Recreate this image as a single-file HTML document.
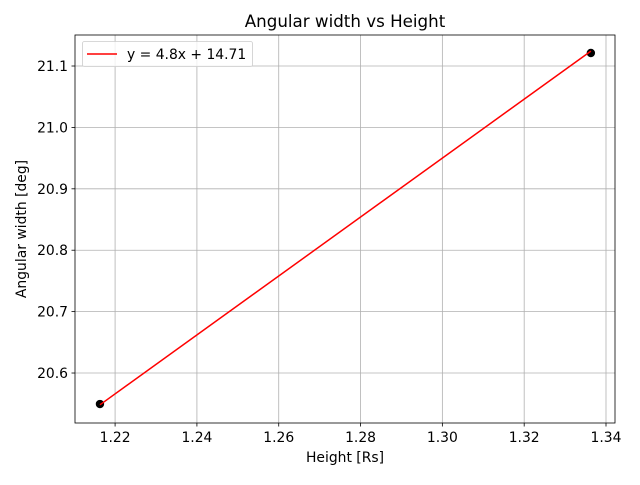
<!DOCTYPE html>
<html><head><meta charset="utf-8"><style>
body{margin:0;background:#fff;font-family:"Liberation Sans","DejaVu Sans",sans-serif;}
svg text{font-family:"DejaVu Sans","Liberation Sans",sans-serif;}
</style></head><body>
<svg id="chart" width="640" height="480" xmlns="http://www.w3.org/2000/svg"></svg>
<script>
const xPoints = [1.2163, 1.3363];
const yPoints = [20.5495, 21.1212];
const slope = [4.8];
const intercept = [14.71];
const xTicks = [1.22, 1.24, 1.26, 1.28, 1.30, 1.32, 1.34];
const yTicks = [20.6, 20.7, 20.8, 20.9, 21.0, 21.1];
const legendLabels = ["y = 4.8x + 14.71"];

const L=75,R=615,T=35,B=423;
const xMin=1.2102,xMax=1.3422,yMin=20.5186,yMax=21.1505;
const sx=v=>L+(v-xMin)/(xMax-xMin)*(R-L);
const sy=v=>B-(v-yMin)/(yMax-yMin)*(B-T);
const svg=document.getElementById('chart');
const NS="http://www.w3.org/2000/svg";
function mk(tag,attrs,parent){const e=document.createElementNS(NS,tag);for(const k in attrs)e.setAttribute(k,attrs[k]);(parent||svg).appendChild(e);return e;}

xTicks.forEach(v=>{
  const x=sx(v);
  const g=mk('line',{x1:x,x2:x,y1:T,y2:B,stroke:'#b0b0b0','stroke-width':0.8});
  
  
  mk('line',{x1:x,x2:x,y1:B,y2:B+3.5,stroke:'#000','stroke-width':0.8});
  const t=mk('text',{x:x,y:B+19,'font-size':13.9,'text-anchor':'middle',fill:'#000'});
  t.textContent=v.toFixed(2);
  
  
});
yTicks.forEach(v=>{
  const y=sy(v);
  const g=mk('line',{x1:L,x2:R,y1:y,y2:y,stroke:'#b0b0b0','stroke-width':0.8});
  
  
  mk('line',{x1:L-3.5,x2:L,y1:y,y2:y,stroke:'#000','stroke-width':0.8});
  const t=mk('text',{x:L-7,y:y+5,'font-size':13.9,'text-anchor':'end',fill:'#000'});
  t.textContent=v.toFixed(1);
  
  
});

xPoints.forEach((xv,i)=>{
  const c=mk('circle',{cx:sx(xv),cy:sy(yPoints[i]),r:4.2,fill:'#000'});
  
  
});
const x0=xPoints[0],x1=xPoints[xPoints.length-1];
const fl=mk('line',{x1:sx(x0),y1:sy(slope[0]*x0+intercept[0]),x2:sx(x1),y2:sy(slope[0]*x1+intercept[0]),stroke:'#ff0000','stroke-width':1.5});



const fr=mk('rect',{x:L,y:T,width:R-L,height:B-T,fill:'none',stroke:'#000','stroke-width':0.8});



const ti=mk('text',{x:(L+R)/2,y:27,'font-size':16.7,'text-anchor':'middle'});ti.textContent='Angular width vs Height';


const xl=mk('text',{x:(L+R)/2,y:462,'font-size':13.9,'text-anchor':'middle'});xl.textContent='Height [Rs]';


const yl=mk('text',{x:0,y:0,'font-size':13.9,'text-anchor':'middle',transform:`translate(26,${(T+B)/2}) rotate(-90)`});yl.textContent='Angular width [deg]';



const lg=mk('g',{});


mk('rect',{x:82.5,y:41.5,width:170,height:25,rx:2,fill:'#fff','fill-opacity':0.8,stroke:'#ccc','stroke-width':0.8},lg);
mk('line',{x1:87,x2:117,y1:54,y2:54,stroke:'#ff0000','stroke-width':1.5},lg);
const lt=mk('text',{x:127,y:59,'font-size':13.9},lg);lt.textContent=legendLabels[0];


</script>
</body></html>
